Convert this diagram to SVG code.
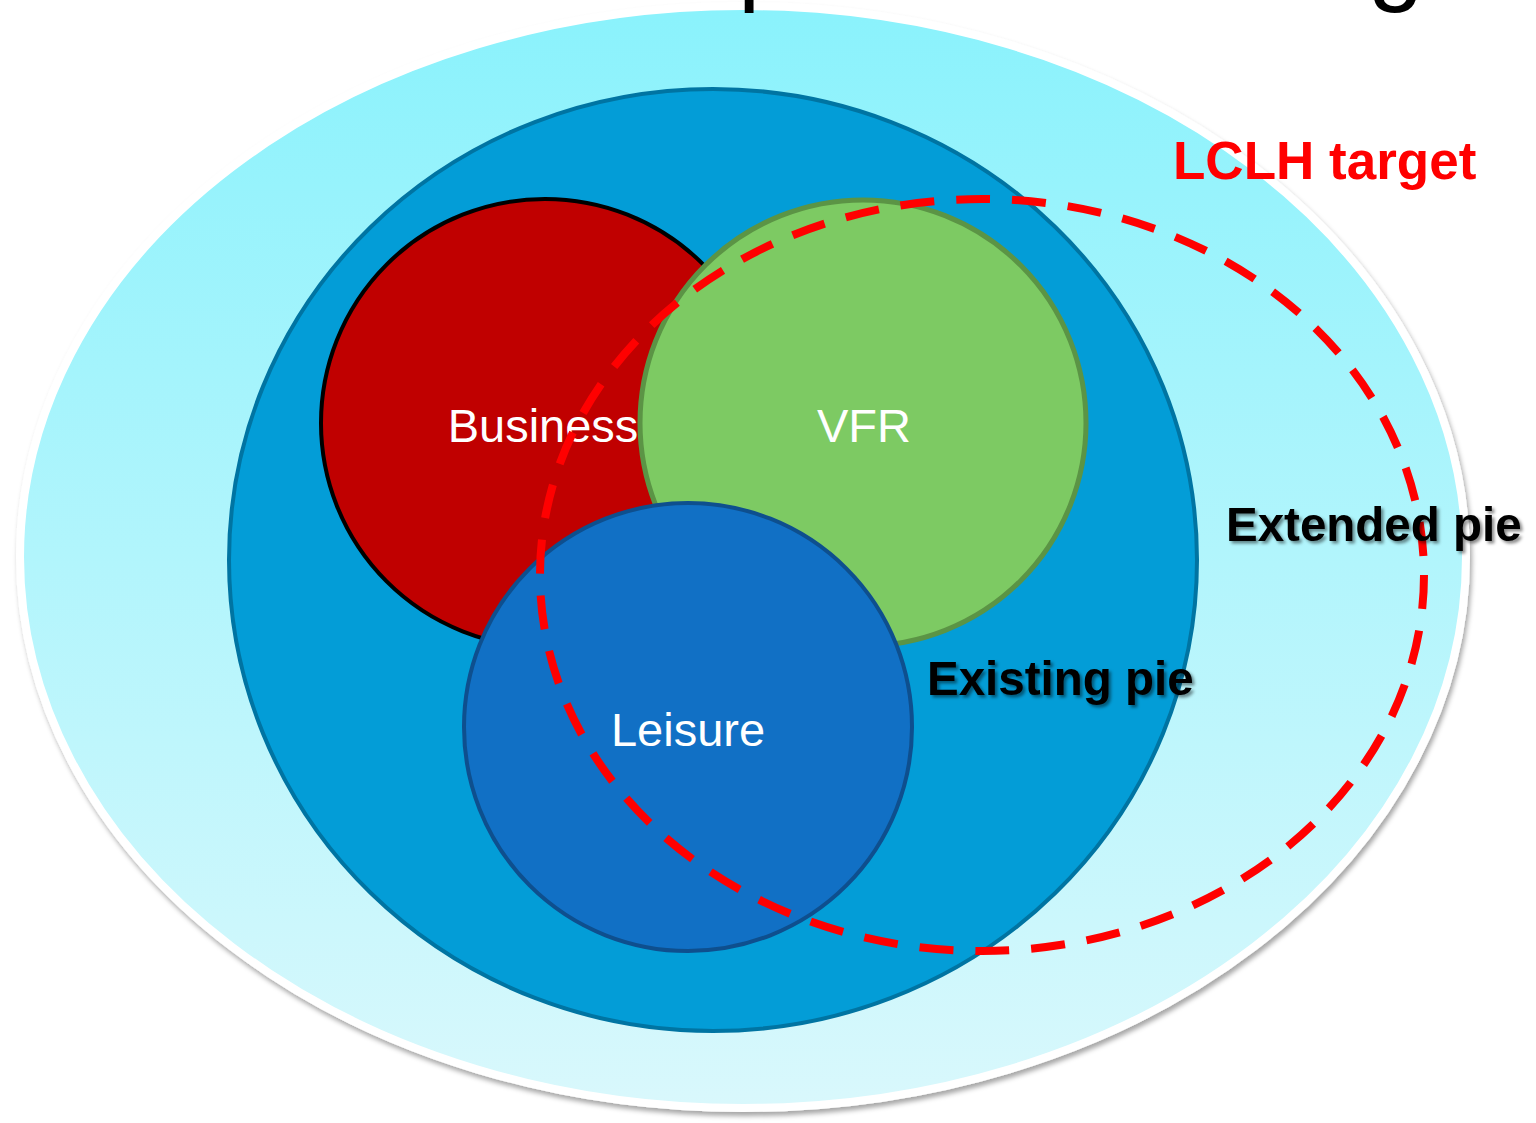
<svg xmlns="http://www.w3.org/2000/svg" width="1536" height="1123" viewBox="0 0 1536 1123">
  <defs>
    <linearGradient id="skyFill" x1="0" y1="0" x2="0" y2="1">
      <stop offset="0" stop-color="#8AF2FC"/>
      <stop offset="1" stop-color="#D9F8FC"/>
    </linearGradient>
    <filter id="outerShadow" x="-5%" y="-5%" width="110%" height="110%">
      <feDropShadow dx="2" dy="4" stdDeviation="2.5" flood-color="#000" flood-opacity="0.35"/>
    </filter>
    <filter id="textShadow" x="-5%" y="-20%" width="110%" height="140%">
      <feDropShadow dx="2.5" dy="2.5" stdDeviation="1.5" flood-color="#000" flood-opacity="0.45"/>
    </filter>
    <style>
      .title { font-family: "Liberation Sans", Arial, sans-serif; font-size: 100px; fill: #000; }
      .seg { font-family: "Liberation Sans", Arial, sans-serif; font-size: 47px; fill: #fff; text-anchor: middle; }
      .pie { font-family: "Liberation Sans", Arial, sans-serif; font-size: 47.5px; font-weight: bold; fill: #000; filter: url(#textShadow); }
      .target { font-family: "Liberation Sans", Arial, sans-serif; font-size: 53px; font-weight: bold; fill: #FF0000; }
    </style>
  </defs>

  <rect width="1536" height="1123" fill="#fff"/>

  <!-- extended market -->
  <g id="extended-pie">
    <ellipse cx="743" cy="557" rx="723" ry="551" fill="url(#skyFill)" stroke="#fff" stroke-width="8" filter="url(#outerShadow)"/>
  </g>

  <!-- existing market -->
  <g id="existing-pie">
    <ellipse cx="713" cy="560" rx="484" ry="471" fill="#039DD7" stroke="#0074A2" stroke-width="4"/>
  </g>

  <g id="business">
    <circle cx="545" cy="423" r="224" fill="#C00000" stroke="#000" stroke-width="4"/>
  </g>

  <g id="vfr">
    <circle cx="863" cy="423" r="223" fill="#7DCA63" stroke="#5B9445" stroke-width="5"/>
  </g>

  <g id="leisure">
    <circle cx="688" cy="727" r="224" fill="#1170C5" stroke="#0E4F8E" stroke-width="4"/>
  </g>

  <!-- segment labels -->
  <g id="segment-labels">
    <text class="seg" x="543" y="442">Business</text>
    <text class="seg" x="864" y="442">VFR</text>
    <text class="seg" x="688" y="746">Leisure</text>
  </g>

  <!-- LCLH target area -->
  <g id="lclh-target">
    <ellipse cx="982" cy="575" rx="442" ry="376" fill="none" stroke="#FF0000" stroke-width="8" stroke-dasharray="34 22"/>
    <text class="target" x="1173" y="179">LCLH target</text>
  </g>

  <g id="pie-labels">
    <text class="pie" x="1226" y="541">Extended pie</text>
    <text class="pie" x="927" y="695">Existing pie</text>
  </g>

  <!-- heading, mostly above the top edge, drawn over the rings -->
  <g id="heading">
    <text class="title" x="738" y="-8">p</text>
    <text class="title" x="1368" y="-8">g</text>
  </g>
</svg>
